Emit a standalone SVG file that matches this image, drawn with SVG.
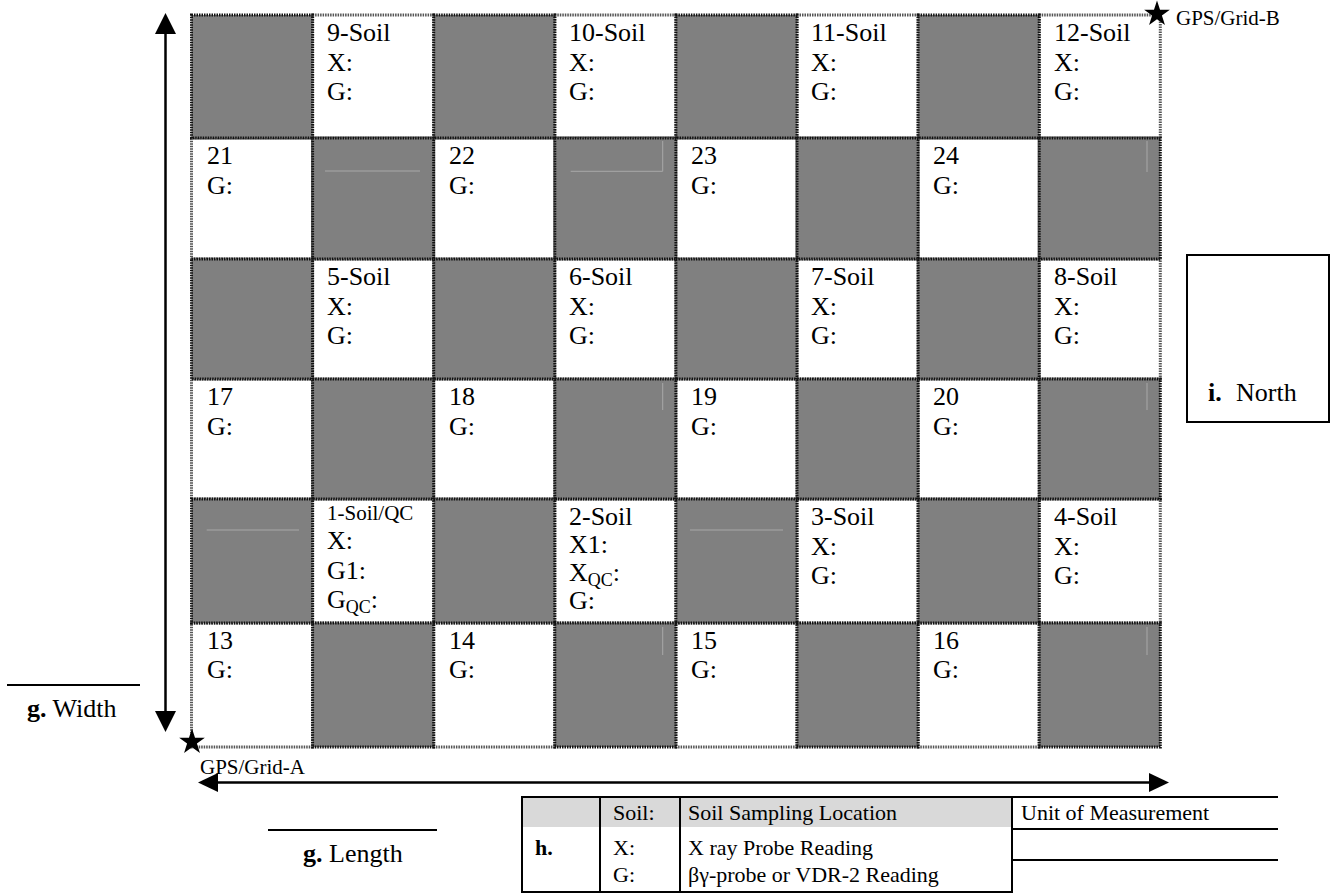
<svg xmlns="http://www.w3.org/2000/svg" width="1330" height="894" viewBox="0 0 1330 894">
<style>
text{font-family:"Liberation Serif","Times New Roman",serif;fill:#000}
.c{font-size:26px}
.sm{font-size:21px}
.lg{font-size:22px}
.b{font-weight:bold}
.gc{fill:#808080;stroke:#111;stroke-width:3;stroke-dasharray:1.5 1}
.wc{fill:#fff;stroke:#555;stroke-width:3;stroke-dasharray:1.5 1}
.fl{stroke:#a8a8a8;stroke-width:1;fill:none}
.ln{stroke:#000;stroke-width:2;fill:none}
.ar{stroke:#000;stroke-width:2.5;fill:none}
</style>
<defs>
<path id="star" d="M0,-13.5 L3.03,-4.17 L12.84,-4.17 L4.91,1.59 L7.94,10.92 L0,5.16 L-7.94,10.92 L-4.91,1.59 L-12.84,-4.17 L-3.03,-4.17 Z" fill="#000"/>
</defs>
<rect width="1330" height="894" fill="#fff"/>

<g id="white-cells">
<rect class="wc" x="312.6" y="15" width="121.1" height="123"/>
<rect class="wc" x="554.8" y="15" width="121.1" height="123"/>
<rect class="wc" x="797" y="15" width="121.1" height="123"/>
<rect class="wc" x="1039.2" y="15" width="121.1" height="123"/>
<rect class="wc" x="191.5" y="138" width="121.1" height="121"/>
<rect class="wc" x="433.7" y="138" width="121.1" height="121"/>
<rect class="wc" x="675.9" y="138" width="121.1" height="121"/>
<rect class="wc" x="918.1" y="138" width="121.1" height="121"/>
<rect class="wc" x="312.6" y="259" width="121.1" height="120"/>
<rect class="wc" x="554.8" y="259" width="121.1" height="120"/>
<rect class="wc" x="797" y="259" width="121.1" height="120"/>
<rect class="wc" x="1039.2" y="259" width="121.1" height="120"/>
<rect class="wc" x="191.5" y="379" width="121.1" height="120"/>
<rect class="wc" x="433.7" y="379" width="121.1" height="120"/>
<rect class="wc" x="675.9" y="379" width="121.1" height="120"/>
<rect class="wc" x="918.1" y="379" width="121.1" height="120"/>
<rect class="wc" x="312.6" y="499" width="121.1" height="124"/>
<rect class="wc" x="554.8" y="499" width="121.1" height="124"/>
<rect class="wc" x="797" y="499" width="121.1" height="124"/>
<rect class="wc" x="1039.2" y="499" width="121.1" height="124"/>
<rect class="wc" x="191.5" y="623" width="121.1" height="124"/>
<rect class="wc" x="433.7" y="623" width="121.1" height="124"/>
<rect class="wc" x="675.9" y="623" width="121.1" height="124"/>
<rect class="wc" x="918.1" y="623" width="121.1" height="124"/>
</g>

<g id="gray-cells">
<rect class="gc" x="191.5" y="15" width="121.1" height="123"/>
<rect class="gc" x="433.7" y="15" width="121.1" height="123"/>
<rect class="gc" x="675.9" y="15" width="121.1" height="123"/>
<rect class="gc" x="918.1" y="15" width="121.1" height="123"/>
<rect class="gc" x="312.6" y="138" width="121.1" height="121"/>
<rect class="gc" x="554.8" y="138" width="121.1" height="121"/>
<rect class="gc" x="797" y="138" width="121.1" height="121"/>
<rect class="gc" x="1039.2" y="138" width="121.1" height="121"/>
<rect class="gc" x="191.5" y="259" width="121.1" height="120"/>
<rect class="gc" x="433.7" y="259" width="121.1" height="120"/>
<rect class="gc" x="675.9" y="259" width="121.1" height="120"/>
<rect class="gc" x="918.1" y="259" width="121.1" height="120"/>
<rect class="gc" x="312.6" y="379" width="121.1" height="120"/>
<rect class="gc" x="554.8" y="379" width="121.1" height="120"/>
<rect class="gc" x="797" y="379" width="121.1" height="120"/>
<rect class="gc" x="1039.2" y="379" width="121.1" height="120"/>
<rect class="gc" x="191.5" y="499" width="121.1" height="124"/>
<rect class="gc" x="433.7" y="499" width="121.1" height="124"/>
<rect class="gc" x="675.9" y="499" width="121.1" height="124"/>
<rect class="gc" x="918.1" y="499" width="121.1" height="124"/>
<rect class="gc" x="312.6" y="623" width="121.1" height="124"/>
<rect class="gc" x="554.8" y="623" width="121.1" height="124"/>
<rect class="gc" x="797" y="623" width="121.1" height="124"/>
<rect class="gc" x="1039.2" y="623" width="121.1" height="124"/>
</g>

<g id="faint-lines">
<path class="fl" d="M325,171 H420"/>
<path class="fl" d="M570.7,171.3 H662.7 V141"/>
<path class="fl" d="M1147,141 V172"/>
<path class="fl" d="M662.7,383 V410"/>
<path class="fl" d="M1147,383 V410"/>
<path class="fl" d="M206.7,530 H299"/>
<path class="fl" d="M690,530 H783"/>
<path class="fl" d="M662.7,627 V655"/>
<path class="fl" d="M1147,627 V655"/>
</g>

<g id="cell-9"><text class="c" x="327" y="41">9-Soil</text><text class="c" x="327" y="71">X:</text><text class="c" x="327" y="100">G:</text></g>
<g id="cell-10"><text class="c" x="569" y="41">10-Soil</text><text class="c" x="569" y="71">X:</text><text class="c" x="569" y="100">G:</text></g>
<g id="cell-11"><text class="c" x="811" y="41">11-Soil</text><text class="c" x="811" y="71">X:</text><text class="c" x="811" y="100">G:</text></g>
<g id="cell-12"><text class="c" x="1054" y="41">12-Soil</text><text class="c" x="1054" y="71">X:</text><text class="c" x="1054" y="100">G:</text></g>

<g id="cell-21"><text class="c" x="207" y="164">21</text><text class="c" x="207" y="194">G:</text></g>
<g id="cell-22"><text class="c" x="449" y="164">22</text><text class="c" x="449" y="194">G:</text></g>
<g id="cell-23"><text class="c" x="691" y="164">23</text><text class="c" x="691" y="194">G:</text></g>
<g id="cell-24"><text class="c" x="933" y="164">24</text><text class="c" x="933" y="194">G:</text></g>

<g id="cell-5"><text class="c" x="327" y="285">5-Soil</text><text class="c" x="327" y="315">X:</text><text class="c" x="327" y="344">G:</text></g>
<g id="cell-6"><text class="c" x="569" y="285">6-Soil</text><text class="c" x="569" y="315">X:</text><text class="c" x="569" y="344">G:</text></g>
<g id="cell-7"><text class="c" x="811" y="285">7-Soil</text><text class="c" x="811" y="315">X:</text><text class="c" x="811" y="344">G:</text></g>
<g id="cell-8"><text class="c" x="1054" y="285">8-Soil</text><text class="c" x="1054" y="315">X:</text><text class="c" x="1054" y="344">G:</text></g>

<g id="cell-17"><text class="c" x="207" y="405">17</text><text class="c" x="207" y="435">G:</text></g>
<g id="cell-18"><text class="c" x="449" y="405">18</text><text class="c" x="449" y="435">G:</text></g>
<g id="cell-19"><text class="c" x="691" y="405">19</text><text class="c" x="691" y="435">G:</text></g>
<g id="cell-20"><text class="c" x="933" y="405">20</text><text class="c" x="933" y="435">G:</text></g>

<g id="cell-1"><text class="sm" x="327" y="520">1-Soil/QC</text><text class="c" x="327" y="549">X:</text><text class="c" x="327" y="579">G1:</text><text class="c" x="327" y="608">G<tspan font-size="18" dy="5">QC</tspan><tspan dy="-5">:</tspan></text></g>
<g id="cell-2"><text class="c" x="569" y="525">2-Soil</text><text class="c" x="569" y="553">X1:</text><text class="c" x="569" y="581">X<tspan font-size="18" dy="5">QC</tspan><tspan dy="-5">:</tspan></text><text class="c" x="569" y="609">G:</text></g>
<g id="cell-3"><text class="c" x="811" y="525">3-Soil</text><text class="c" x="811" y="555">X:</text><text class="c" x="811" y="584">G:</text></g>
<g id="cell-4"><text class="c" x="1054" y="525">4-Soil</text><text class="c" x="1054" y="555">X:</text><text class="c" x="1054" y="584">G:</text></g>

<g id="cell-13"><text class="c" x="207" y="649">13</text><text class="c" x="207" y="678">G:</text></g>
<g id="cell-14"><text class="c" x="449" y="649">14</text><text class="c" x="449" y="678">G:</text></g>
<g id="cell-15"><text class="c" x="691" y="649">15</text><text class="c" x="691" y="678">G:</text></g>
<g id="cell-16"><text class="c" x="933" y="649">16</text><text class="c" x="933" y="678">G:</text></g>

<g id="connectors">
<path class="ar" d="M165.5,33 V713"/>
<path d="M165.5,13 L155,34 L176,34 Z" fill="#000"/>
<path d="M165.5,732 L155,711 L176,711 Z" fill="#000"/>
<path class="ar" d="M217,782.5 H1150"/>
<path d="M198,782.5 L218,773 L218,792 Z" fill="#000"/>
<path d="M1169,782.5 L1149,773 L1149,792 Z" fill="#000"/>
</g>

<g id="gps-b"><use href="#star" x="1157" y="14"/><text class="sm" x="1176" y="25">GPS/Grid-B</text></g>
<g id="gps-a"><use href="#star" x="192" y="742"/><text class="sm" x="200" y="774">GPS/Grid-A</text></g>

<g id="north"><rect x="1187" y="255" width="142" height="167" fill="none" stroke="#000" stroke-width="2"/><text class="c" x="1208" y="401"><tspan class="b">i.</tspan></text><text class="c" x="1236" y="401">North</text></g>

<g id="width-label"><path class="ln" d="M7,685 H140"/><text class="c" x="27" y="717"><tspan class="b">g.</tspan> Width</text></g>
<g id="length-label"><path class="ln" d="M268,830 H437"/><text class="c" x="303" y="862"><tspan class="b">g.</tspan> Length</text></g>

<g id="legend">
<rect x="522" y="797" width="490" height="30" fill="#d9d9d9"/>
<rect x="522" y="797" width="490" height="95" fill="none" stroke="#000" stroke-width="2"/>
<path class="ln" d="M600,797 V892 M680,797 V892"/>
<path class="ln" d="M1012,797 H1278 M1012,829 H1278 M1012,860 H1278"/>
<text class="lg" x="613" y="820">Soil:</text>
<text class="lg" x="613" y="855">X:</text>
<text class="lg" x="613" y="882">G:</text>
<text class="lg" x="688" y="820">Soil Sampling Location</text>
<text class="lg" x="688" y="855">X ray Probe Reading</text>
<text class="lg" x="688" y="882">βγ-probe or VDR-2 Reading</text>
<text class="lg" x="1021" y="820">Unit of Measurement</text>
<text class="lg b" x="535" y="855">h.</text>
</g>
</svg>
